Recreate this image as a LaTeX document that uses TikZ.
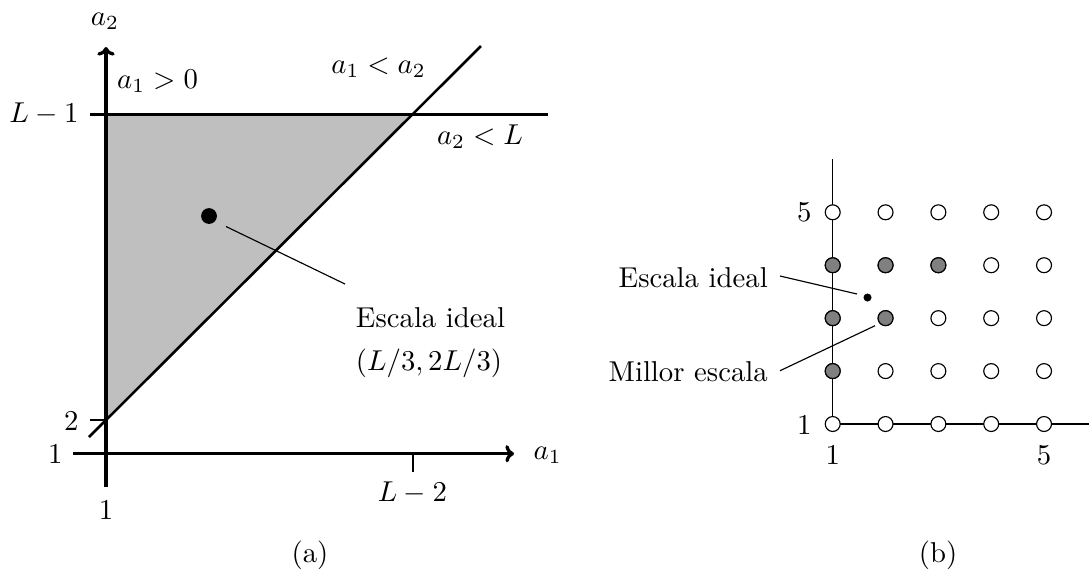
\documentclass[tikz,border=0pt]{standalone}
\usetikzlibrary{arrows.meta}
\begin{document}
\begin{tikzpicture}[x=0.348pt,y=-0.348pt,
  lbl/.style={inner sep=0pt},
  axisA/.style={line width=1.15pt,-{To[length=3pt,width=6pt]}},
  bnd/.style={line width=0.9pt},
  thinl/.style={line width=0.4pt},
  pt/.style={circle,draw,line width=0.4pt,fill=white,inner sep=0pt,minimum size=5.2pt},
  ptg/.style={pt,fill=gray},
]
\useasboundingbox (0,0) rectangle (1089,569);
% ================= (a) =================
\coordinate (P2) at (106,420);
\coordinate (PL) at (106,114.5);
\coordinate (Q) at (412.5,114.5);
\fill[lightgray] (PL) -- (Q) -- (P2) -- cycle;
\coordinate (hL) at (90,114.5);
\coordinate (hR) at (548,114.5);
\draw[bnd] (hL) -- (hR);
\coordinate (dB) at (89,437);
\coordinate (dT) at (481,46);
\draw[bnd] (dB) -- (dT);
\coordinate (t2) at (90,420);
\draw[bnd] (t2) -- (P2);
\coordinate (ybot) at (106,486.7);
\coordinate (ytop) at (106,47);
\coordinate (xleft) at (73,453.7);
\coordinate (xtip) at (514,453.7);
\draw[axisA] (ybot) -- (ytop);
\draw[axisA] (xleft) -- (xtip);
\coordinate (tLa) at (413,453.7);
\coordinate (tLb) at (413,471.7);
\draw[thinl] (tLa) -- (tLb);
\node[lbl] (la2) at (105,21) {$a_2$};
\node[lbl,anchor=west] (la1) at (533,455) {$a_1$};
\node[lbl] (lLm1) at (44,114) {$L-1$};
\node[lbl] (lA) at (157.5,81) {$a_1>0$};
\node[lbl] (lB) at (378.6,68) {$a_1<a_2$};
\node[lbl] (lC) at (480,137) {$a_2<L$};
\node[lbl] (l2) at (71.4,421) {$2$};
\node[lbl] (l1y) at (55.4,454) {$1$};
\node[lbl] (l1x) at (106,510) {$1$};
\node[lbl] (lLm2) at (412.5,493) {$L-2$};
\node[circle,fill,inner sep=0pt,minimum size=5.5pt] (idealA) at (209,216) {};
\coordinate (leadA1) at (226,226.5);
\coordinate (leadA2) at (345,284);
\draw[thinl] (leadA1) -- (leadA2);
\node[lbl,anchor=west] (escA) at (355.4,318) {Escala ideal};
\node[lbl,anchor=west] (coordA) at (355.4,363) {$(L/3,2L/3)$};
\node[lbl] (capA) at (310,555) {(a)};
% ================= (b) =================
\coordinate (bTop) at (832.7,159.3);
\coordinate (bO) at (832.7,424);
\coordinate (bRight) at (1089,424);
\draw[thinl] (bTop) -- (bO) -- (bRight);
\foreach \i in {1,...,5}{
  \foreach \j in {1,...,5}{
    \node[pt] (g\i\j) at ({832.7+(\i-1)*52.83},{424-(\j-1)*52.93}) {};
  }
}
\foreach \i/\j in {1/4,2/4,3/4,1/3,2/3,1/2}{
  \node[ptg] at (g\i\j) {};
}
\node[circle,fill,inner sep=0pt,minimum size=2.8pt] (idealB) at (867.5,297.5) {};
\node[lbl,anchor=east] (escB) at (768.3,278) {Escala ideal};
\node[lbl,anchor=east] (milB) at (768.3,372) {Millor escala};
\coordinate (leadB1) at (780,276);
\coordinate (leadB2) at (857,294);
\draw[thinl] (leadB1) -- (leadB2);
\coordinate (leadB3) at (780,370.7);
\coordinate (leadB4) at (875,325.7);
\draw[thinl] (leadB3) -- (leadB4);
\node[lbl] (b5y) at (804.3,212.3) {$5$};
\node[lbl] (b1y) at (804.3,425) {$1$};
\node[lbl] (b1x) at (832.7,455) {$1$};
\node[lbl] (b5x) at (1044,455) {$5$};
\node[lbl] (capB) at (938,555) {(b)};
\end{tikzpicture}
\end{document}
